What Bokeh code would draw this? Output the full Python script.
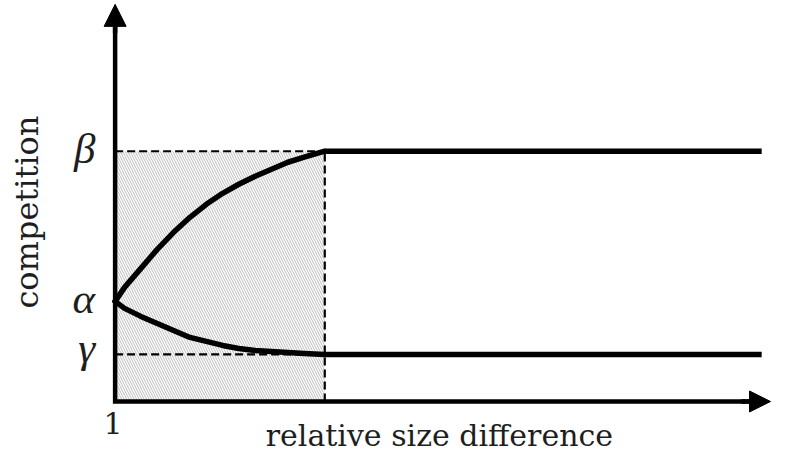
import math
from bokeh.plotting import figure
from bokeh.models import Range1d, Arrow, NormalHead
from bokeh.core.properties import value
from bokeh.embed import file_html
from bokeh.resources import INLINE

# ---- data ----
alpha = 1.0
beta = 2.5
gamma = 0.47
x_origin = 1.0
x_sat = 2.0
x_end = 4.084

size_diff = [1.0, 1.045, 1.123, 1.201, 1.279, 1.357, 1.435, 1.513,
             1.590, 1.668, 1.746, 1.824, 1.902, 2.0]
comp_upper = [1.0, 1.14, 1.33, 1.52, 1.69, 1.84, 1.97, 2.08,
              2.17, 2.25, 2.32, 2.39, 2.44, 2.5]
comp_lower = [1.0, 0.93, 0.85, 0.78, 0.71, 0.64, 0.60, 0.56,
              0.53, 0.51, 0.50, 0.49, 0.48, 0.47]

x_tick_label = "1"
x_title = "relative size difference"
y_title = "competition"
level_labels = ["β", "α", "γ"]

# ---- layout (data range spans the reference's 787x474 area) ----
W, H = 771, 458
RX, RY = 214.0, 103.6   # reference px per data unit
x0, x1 = x_origin - 117 / RX, x_origin + (787 - 117) / RX
y0, y1 = -(474 - 415) / RY, 415 / RY
SH = 14.5               # text baseline correction (reference px)

p = figure(width=W, height=H, output_backend="svg", toolbar_location=None,
           x_range=Range1d(x0, x1), y_range=Range1d(y0, y1),
           x_axis_type=None, y_axis_type=None, min_border=0,
           outline_line_color=None, background_fill_color="white",
           border_fill_color="white")
p.grid.visible = False

# hatched region
p.quad(left=[x_origin], right=[x_sat], bottom=[0], top=[beta],
       fill_color="white", fill_alpha=0, line_color=None,
       hatch_pattern="left_diagonal_line", hatch_color="#b4b4b4",
       hatch_scale=5, hatch_weight=0.9)

# dashed guides
dash = dict(line_color="black", line_width=2.2, line_dash="8 4")
p.line([x_origin, x_sat], [beta, beta], **dash)
p.line([x_origin, x_sat], [gamma, gamma], **dash)
p.line([x_sat, x_sat], [0, beta], **dash)

# curves
curve = dict(line_color="black", line_width=5.5, line_join="round", line_cap="round")
p.line(size_diff, comp_upper, **curve)
p.line(size_diff, comp_lower, **curve)
p.line([x_sat, x_end], [beta, beta], line_color="black", line_width=5.5)
p.line([x_sat, x_end], [gamma, gamma], line_color="black", line_width=5.5)

# axes with arrowheads
y_tip = (415 - 4) / RY
x_tip = x_origin + (786 - 117) / RX
p.line([x_origin, x_origin, x_tip - 12 / RX], [y_tip - 12 / RY, 0, 0],
       line_color="black", line_width=4.5, line_join="miter")
p.add_layout(Arrow(end=NormalHead(size=22, fill_color="black", line_color="black"),
                   x_start=x_origin, y_start=y_tip - 30 / RY, x_end=x_origin, y_end=y_tip,
                   line_color="black", line_width=4.5))
p.add_layout(Arrow(end=NormalHead(size=21, fill_color="black", line_color="black"),
                   x_start=x_tip - 30 / RX, y_start=0, x_end=x_tip, y_end=0,
                   line_color="black", line_width=4.5))

txt = "#1e1e1e"
# greek level labels
lx = [x_origin - 31 / RX, x_origin - 32 / RX, x_origin - 29 / RX]
ly = [beta + (SH - 12) / RY, alpha + (SH - 11) / RY, gamma + (SH - 7) / RY]
p.text(x=lx, y=ly, text=level_labels, text_font=value("Liberation Serif"),
       text_font_style="italic", text_font_size="43px", text_align="center",
       text_baseline="alphabetic", text_color=txt)

# tick label
p.text(x=[x_origin - 2 / RX], y=[(SH - 37) / RY], text=[x_tick_label],
       text_font=value("DejaVu Serif"), text_font_size="30px",
       text_align="center", text_baseline="alphabetic", text_color=txt)

# axis titles
p.text(x=[x_origin + (448 - 117) / RX], y=[(SH - 50) / RY], text=[x_title],
       text_font=value("DejaVu Serif"), text_font_size="30px",
       text_align="center", text_baseline="alphabetic", text_color=txt)
p.text(x=[x_origin - (117 - 42 + SH) / RX], y=[(415 - 219) / RY], text=[y_title],
       angle=math.pi / 2, text_font=value("DejaVu Serif"), text_font_size="32px",
       text_align="center", text_baseline="alphabetic", text_color=txt)

open("out.html", "w").write(file_html(p, INLINE))
